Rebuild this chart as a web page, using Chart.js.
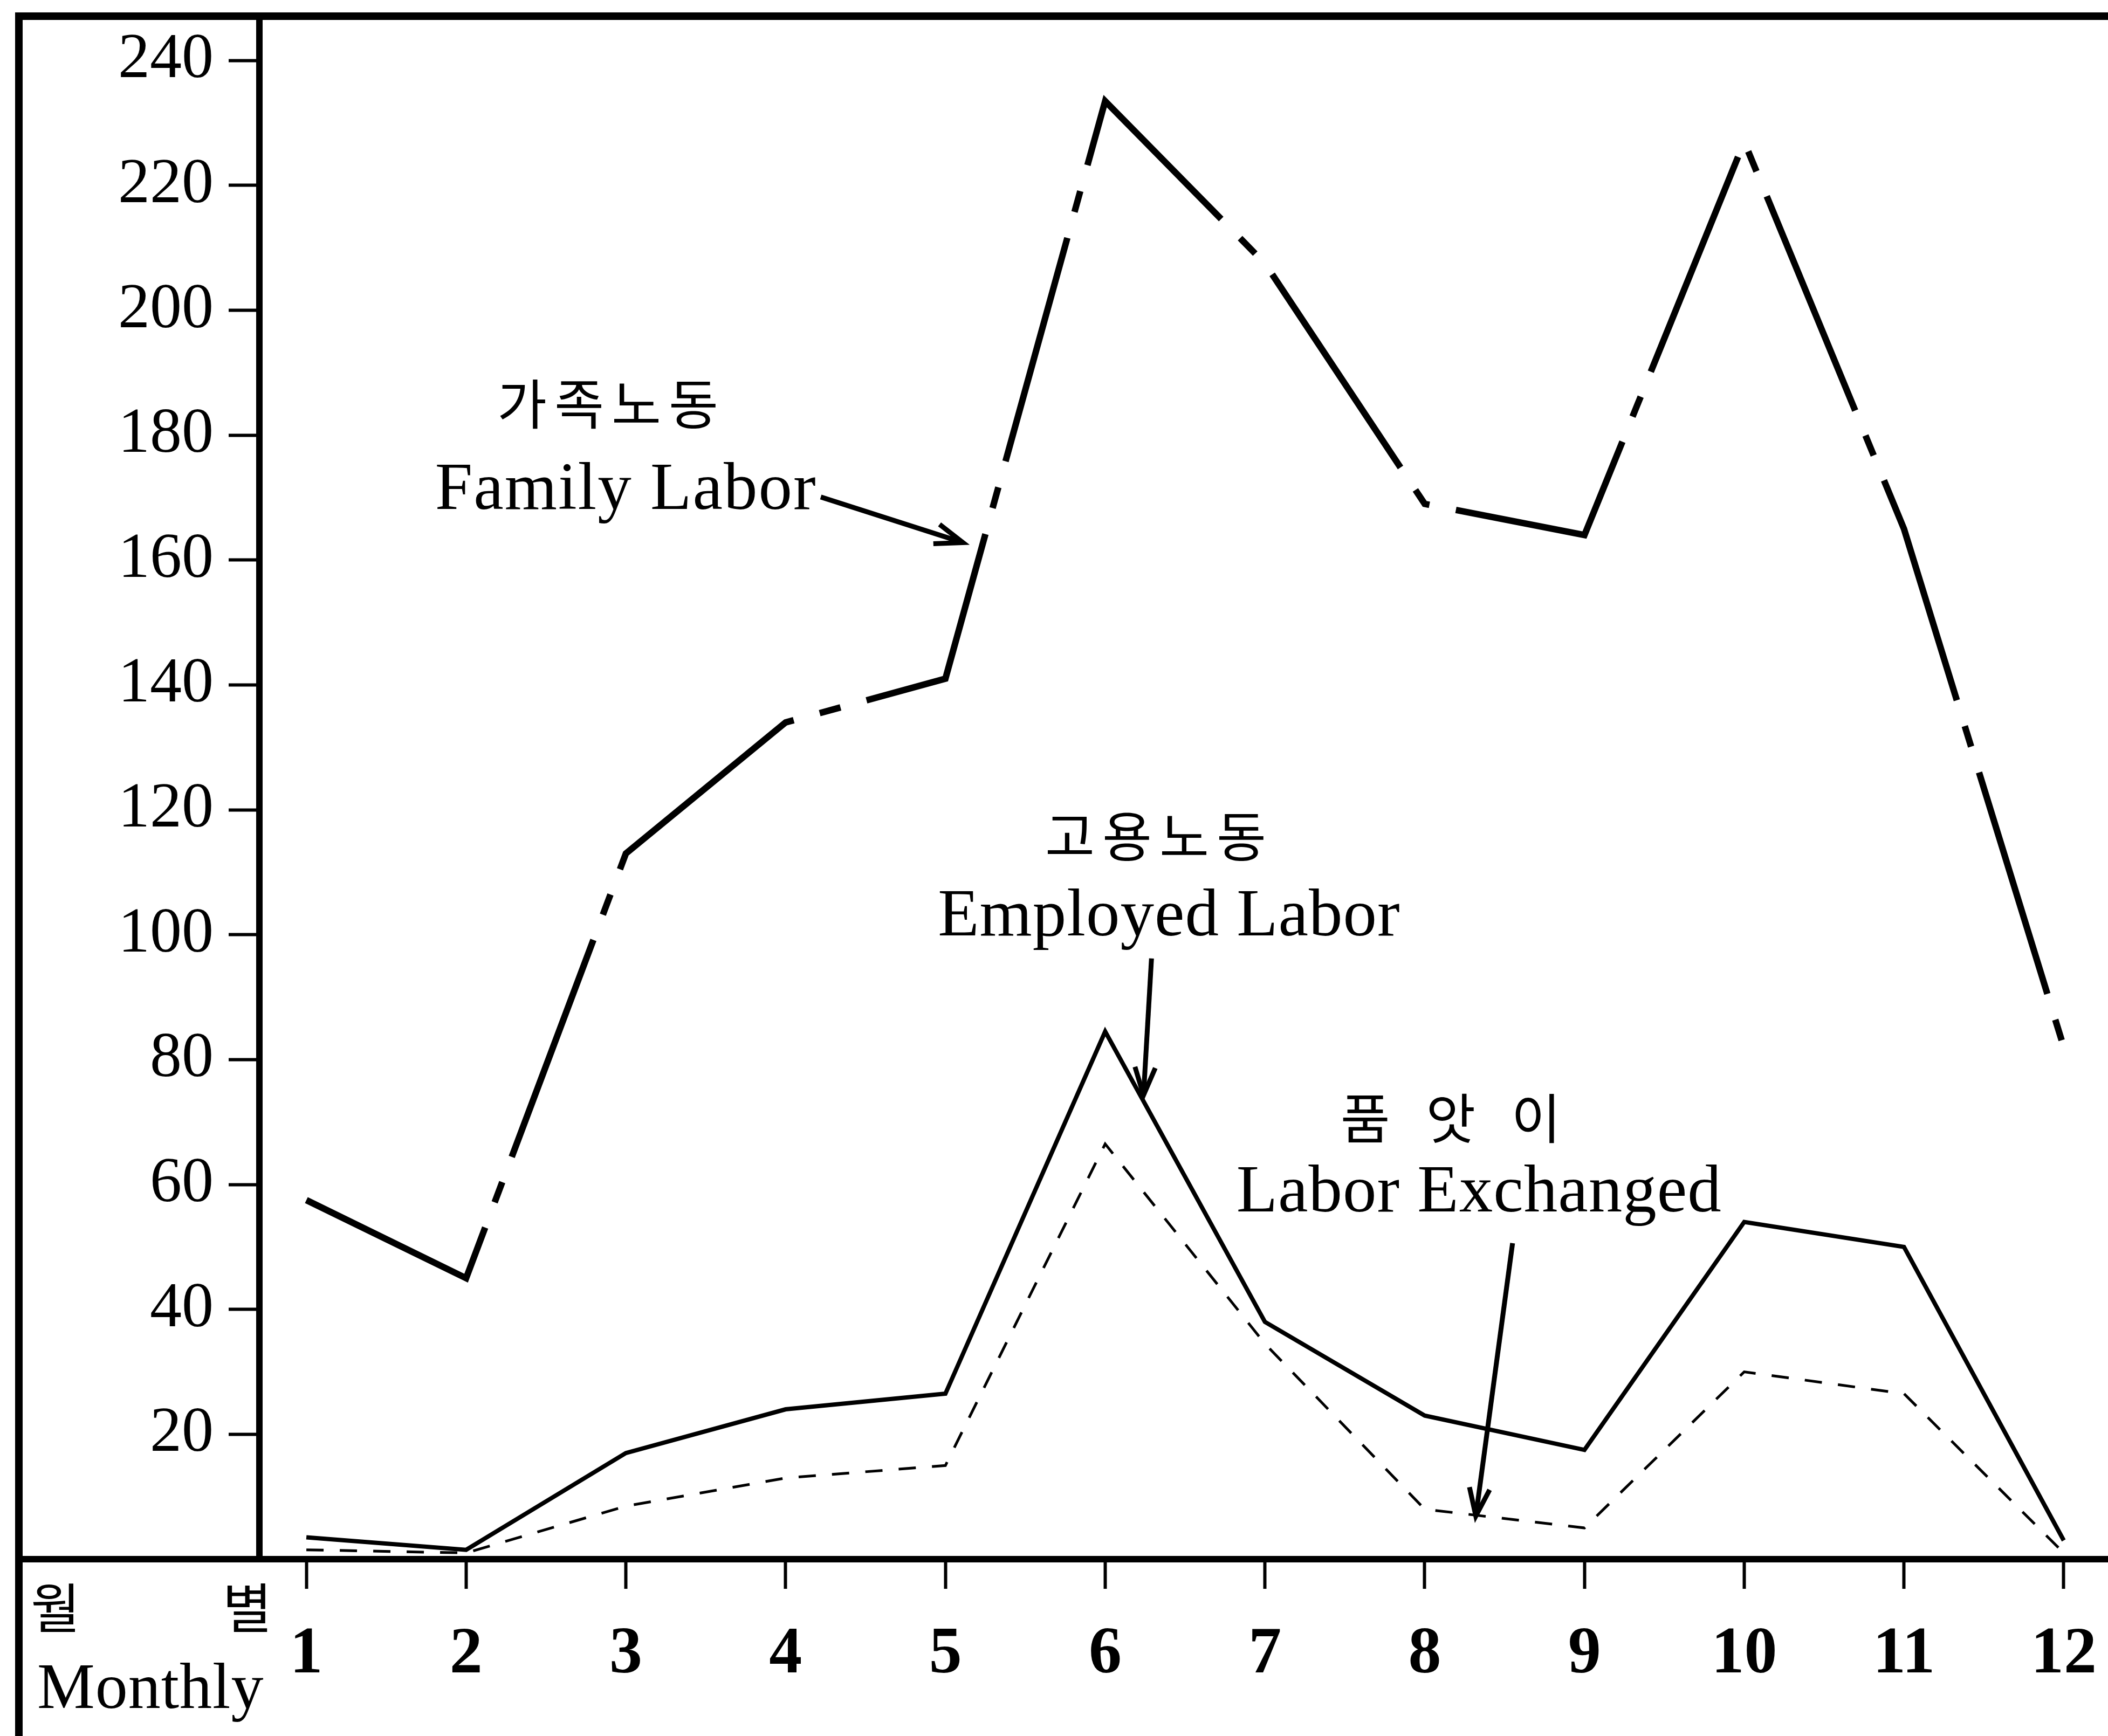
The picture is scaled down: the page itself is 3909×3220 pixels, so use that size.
<!DOCTYPE html>
<html>
<head>
<meta charset="utf-8">
<script src="https://cdn.jsdelivr.net/npm/chart.js@4.4.0/dist/chart.umd.min.js"></script>
<style>
  html, body { margin: 0; padding: 0; background: #fff; }
  #wrap { width: 3909px; height: 3220px; }
</style>
</head>
<body>
<div id="wrap"><canvas id="chart" width="3909" height="3220"></canvas></div>
<script>
// ====== DATA ======
const months = [1, 2, 3, 4, 5, 6, 7, 8, 9, 10, 11, 12];
const familyLabor    = [57.5, 45, 113, 134, 141, 233.5, 207.5, 169, 164, 227, 165, 82];
const employedLabor  = [3.5, 1.5, 17, 24, 26.5, 84.5, 38, 23, 17.5, 54, 50, 3];
const laborExchanged = [1.5, 1, 8.5, 13, 15, 66.5, 34.5, 8, 5, 30, 26.5, 1];
const yTicks = [20, 40, 60, 80, 100, 120, 140, 160, 180, 200, 220, 240];

const serif = "'Liberation Serif', 'DejaVu Serif', serif";
const korean = "'Noto Sans CJK KR', sans-serif";

// text labels and arrows, placed in data units (month, value)
const notes = [
  { text: "가족노동", x: 2.91, y: 185, font: "100px " + korean, spacing: "14px" },
  { text: "Family Labor", x: 3.0, y: 171, font: "125px " + serif, spacing: "2px" },
  { text: "고용노동", x: 6.34, y: 115.8, font: "100px " + korean, spacing: "14px" },
  { text: "Employed Labor", x: 6.40, y: 102.7, font: "125px " + serif, spacing: "1px" },
  { text: "품 앗 이", x: 8.2, y: 70.6, font: "100px " + korean, spacing: "22px" },
  { text: "Labor Exchanged", x: 8.34, y: 58.5, font: "125px " + serif, spacing: "1px" },
  { text: "월", x: -0.57, y: -7.8, font: "100px " + korean, spacing: "0px" },
  { text: "별", x: 0.63, y: -7.8, font: "100px " + korean, spacing: "0px" },
  { text: "Monthly", x: 0.025, y: -21.1, font: "120px " + serif, spacing: "1px" }
];
const arrows = [
  { from: [4.22, 170.1], to: [5.11, 162.8] },
  { from: [6.29, 96.2], to: [6.24, 74.3] },
  { from: [8.55, 50.6], to: [8.32, 6.9] }
];

function points(values) {
  return months.map((m, i) => ({ x: m, y: values[i] }));
}

const decorations = {
  id: "decorations",
  afterDraw(chart) {
    const ctx = chart.ctx;
    const xs = chart.scales.x;
    const ys = chart.scales.y;
    const area = chart.chartArea;
    ctx.save();
    ctx.strokeStyle = "#000";
    ctx.fillStyle = "#000";
    ctx.lineCap = "butt";

    // outer frame: top line, left line, axis extension to the left
    ctx.lineWidth = 14;
    ctx.beginPath();
    ctx.moveTo(28, area.top);
    ctx.lineTo(3909, area.top);
    ctx.stroke();
    ctx.beginPath();
    ctx.moveTo(35, area.top - 7);
    ctx.lineTo(35, 3220);
    ctx.stroke();
    ctx.lineWidth = 12;
    ctx.beginPath();
    ctx.moveTo(35, area.bottom);
    ctx.lineTo(area.left, area.bottom);
    ctx.stroke();

    // text labels
    ctx.textAlign = "center";
    ctx.textBaseline = "middle";
    notes.forEach(n => {
      ctx.font = n.font;
      ctx.letterSpacing = n.spacing;
      ctx.fillText(n.text, xs.getPixelForValue(n.x), ys.getPixelForValue(n.y));
    });
    ctx.letterSpacing = "0px";

    // arrows
    ctx.lineWidth = 9;
    arrows.forEach(a => {
      const x1 = xs.getPixelForValue(a.from[0]), y1 = ys.getPixelForValue(a.from[1]);
      const x2 = xs.getPixelForValue(a.to[0]),   y2 = ys.getPixelForValue(a.to[1]);
      const ang = Math.atan2(y2 - y1, x2 - x1);
      ctx.beginPath();
      ctx.moveTo(x1, y1);
      ctx.lineTo(x2, y2);
      ctx.stroke();
      const len = 55;
      ctx.beginPath();
      ctx.moveTo(x2 - len * Math.cos(ang - 0.35), y2 - len * Math.sin(ang - 0.35));
      ctx.lineTo(x2, y2);
      ctx.lineTo(x2 - len * Math.cos(ang + 0.35), y2 - len * Math.sin(ang + 0.35));
      ctx.stroke();
    });
    ctx.restore();
  }
};

new Chart(document.getElementById("chart"), {
  type: "line",
  data: {
    datasets: [
      {
        label: "Family Labor",
        data: points(familyLabor),
        borderColor: "#000",
        borderWidth: 12,
        borderDash: [430, 50, 40, 50],
        pointRadius: 0,
        tension: 0
      },
      {
        label: "Employed Labor",
        data: points(employedLabor),
        borderColor: "#000",
        borderWidth: 8,
        pointRadius: 0,
        tension: 0
      },
      {
        label: "Labor Exchanged",
        data: points(laborExchanged),
        borderColor: "#000",
        borderWidth: 5,
        borderDash: [32, 30],
        pointRadius: 0,
        tension: 0
      }
    ]
  },
  options: {
    responsive: false,
    animation: false,
    layout: { padding: { top: 30, right: 0, bottom: 0, left: 0 } },
    plugins: {
      legend: { display: false },
      tooltip: { enabled: false }
    },
    scales: {
      x: {
        type: "linear",
        min: 0.706,
        max: 12.277,
        afterBuildTicks: axis => { axis.ticks = months.map(v => ({ value: v })); },
        afterFit: axis => {
          axis.height = 328;
          axis.paddingLeft = 0;
          axis.paddingRight = 0;
        },
        grid: { drawOnChartArea: false, drawTicks: true, tickLength: 55, tickWidth: 6, tickColor: "#000" },
        border: { display: true, color: "#000", width: 12 },
        ticks: {
          color: "#000",
          padding: 50,
          autoSkip: false,
          maxRotation: 0,
          font: { family: serif, size: 122, weight: "bold" }
        }
      },
      y: {
        min: 0,
        max: 247.1,
        afterBuildTicks: axis => { axis.ticks = yTicks.map(v => ({ value: v })); },
        afterFit: axis => {
          axis.width = 481;
          axis.paddingTop = 0;
          axis.paddingBottom = 0;
        },
        grid: { drawOnChartArea: false, drawTicks: true, tickLength: 57, tickWidth: 6, tickColor: "#000" },
        border: { display: true, color: "#000", width: 12 },
        ticks: {
          color: "#000",
          padding: 28,
          font: { family: serif, size: 118 }
        }
      }
    }
  },
  plugins: [decorations]
});
</script>
</body>
</html>
